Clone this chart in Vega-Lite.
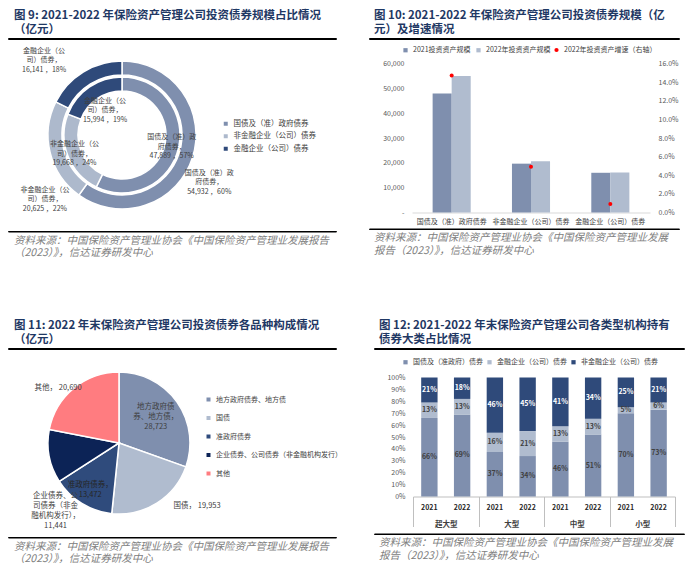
{
"$schema": "https://vega.github.io/schema/vega-lite/v6.json",
"background": "#ffffff",
"padding": {"left": 7, "top": 9, "right": 0, "bottom": 0},
"config": {
  "font": "Noto Sans CJK SC",
  "view": {"stroke": null},
  "axis": {"grid": false, "labelFont": "Noto Sans CJK SC"},
  "legend": {"labelFont": "Noto Sans CJK SC", "labelColor": "#404040", "labelFontSize": 7, "symbolType": "square", "symbolSize": 18, "symbolStrokeWidth": 0}
},
"datasets": {
  "p1": [
    {"yr": 2022, "ord": 1, "cat": "国债及（准）政府债券", "value": 54932, "label": "国债及（准）政\n府债券，\n54,932 ，60%"},
    {"yr": 2022, "ord": 2, "cat": "非金融企业（公司）债券", "value": 20625, "label": "非金融企业（公\n司）债券，\n20,625 ，22%"},
    {"yr": 2022, "ord": 3, "cat": "金融企业（公司）债券", "value": 16141, "label": "金融企业（公\n司）债券，\n16,141 ，18%"},
    {"yr": 2021, "ord": 1, "cat": "国债及（准）政府债券", "value": 47889, "label": "国债及（准）政\n府债券，\n47,889 ，57%"},
    {"yr": 2021, "ord": 2, "cat": "非金融企业（公司）债券", "value": 19668, "label": "非金融企业（公\n司）债券，\n19,668 ，24%"},
    {"yr": 2021, "ord": 3, "cat": "金融企业（公司）债券", "value": 15994, "label": "金融企业（公\n司）债券，\n15,994 ，19%"}
  ],
  "p2bars": [
    {"cat": "国债及（准）政府债券", "year": "2021投资资产规模", "value": 47889},
    {"cat": "国债及（准）政府债券", "year": "2022年投资资产规模", "value": 54932},
    {"cat": "非金融企业（公司）债券", "year": "2021投资资产规模", "value": 19668},
    {"cat": "非金融企业（公司）债券", "year": "2022年投资资产规模", "value": 20625},
    {"cat": "金融企业（公司）债券", "year": "2021投资资产规模", "value": 15994},
    {"cat": "金融企业（公司）债券", "year": "2022年投资资产规模", "value": 16141}
  ],
  "p2pts": [
    {"cat": "国债及（准）政府债券", "growth": 0.147},
    {"cat": "非金融企业（公司）债券", "growth": 0.049},
    {"cat": "金融企业（公司）债券", "growth": 0.009}
  ],
  "p3": [
    {"ord": 1, "cat": "地方政府债券、地方债", "value": 28723, "label": "地方政府债\n券、地方债，\n28,723"},
    {"ord": 2, "cat": "国债", "value": 19953, "label": "国债，  19,953"},
    {"ord": 3, "cat": "准政府债券", "value": 13472, "label": "准政府债券，\n13,472"},
    {"ord": 4, "cat": "企业债券、公司债券（非金融机构发行）", "value": 11441, "label": "企业债券、公\n司债券（非金\n融机构发行），\n11,441"},
    {"ord": 5, "cat": "其他", "value": 20690, "label": "其他，  20,690"}
  ],
  "p4": [
    {"type": "超大型", "year": "2021", "ord": 1, "series": "国债及（准政府）债券", "value": 0.66},
    {"type": "超大型", "year": "2021", "ord": 2, "series": "金融企业（公司）债券", "value": 0.13},
    {"type": "超大型", "year": "2021", "ord": 3, "series": "非金融企业（公司）债券", "value": 0.21},
    {"type": "超大型", "year": "2022", "ord": 1, "series": "国债及（准政府）债券", "value": 0.69},
    {"type": "超大型", "year": "2022", "ord": 2, "series": "金融企业（公司）债券", "value": 0.13},
    {"type": "超大型", "year": "2022", "ord": 3, "series": "非金融企业（公司）债券", "value": 0.18},
    {"type": "大型", "year": "2021", "ord": 1, "series": "国债及（准政府）债券", "value": 0.37},
    {"type": "大型", "year": "2021", "ord": 2, "series": "金融企业（公司）债券", "value": 0.16},
    {"type": "大型", "year": "2021", "ord": 3, "series": "非金融企业（公司）债券", "value": 0.46},
    {"type": "大型", "year": "2022", "ord": 1, "series": "国债及（准政府）债券", "value": 0.34},
    {"type": "大型", "year": "2022", "ord": 2, "series": "金融企业（公司）债券", "value": 0.21},
    {"type": "大型", "year": "2022", "ord": 3, "series": "非金融企业（公司）债券", "value": 0.45},
    {"type": "中型", "year": "2021", "ord": 1, "series": "国债及（准政府）债券", "value": 0.46},
    {"type": "中型", "year": "2021", "ord": 2, "series": "金融企业（公司）债券", "value": 0.13},
    {"type": "中型", "year": "2021", "ord": 3, "series": "非金融企业（公司）债券", "value": 0.41},
    {"type": "中型", "year": "2022", "ord": 1, "series": "国债及（准政府）债券", "value": 0.51},
    {"type": "中型", "year": "2022", "ord": 2, "series": "金融企业（公司）债券", "value": 0.13},
    {"type": "中型", "year": "2022", "ord": 3, "series": "非金融企业（公司）债券", "value": 0.34},
    {"type": "小型", "year": "2021", "ord": 1, "series": "国债及（准政府）债券", "value": 0.70},
    {"type": "小型", "year": "2021", "ord": 2, "series": "金融企业（公司）债券", "value": 0.05},
    {"type": "小型", "year": "2021", "ord": 3, "series": "非金融企业（公司）债券", "value": 0.25},
    {"type": "小型", "year": "2022", "ord": 1, "series": "国债及（准政府）债券", "value": 0.73},
    {"type": "小型", "year": "2022", "ord": 2, "series": "金融企业（公司）债券", "value": 0.06},
    {"type": "小型", "year": "2022", "ord": 3, "series": "非金融企业（公司）债券", "value": 0.21}
  ]
},
"spacing": 60,
"resolve": {"scale": {"color": "independent", "fill": "independent", "xOffset": "independent", "theta": "independent"}, "legend": {"color": "independent", "fill": "independent"}},
"vconcat": [
{
  "spacing": 31,
  "resolve": {"scale": {"color": "independent", "fill": "independent", "xOffset": "independent", "theta": "independent"}, "legend": {"color": "independent", "fill": "independent"}},
  "hconcat": [
  {
    "spacing": 0,
    "resolve": {"scale": {"color": "independent", "theta": "independent"}, "legend": {"color": "independent"}},
    "vconcat": [
      {"width": 328, "height": 1, "data": {"values": [{}]}, "mark": {"type": "text", "text": "", "fontSize": 0},
       "view": {"stroke": "#000000", "strokeWidth": 1},
       "title": {"text": ["图 9: 2021-2022 年保险资产管理公司投资债券规模占比情况", "（亿元）"], "anchor": "start", "dx": 6, "offset": 2.5, "fontSize": 11.5, "fontWeight": "bold", "color": "#1f3864", "lineHeight": 14}},
      {"width": 228, "height": 190, "data": {"name": "p1"},
       "layer": [
         {"transform": [{"filter": "datum.yr == 2022"}],
          "mark": {"type": "arc", "radius": 74, "radius2": 60, "stroke": "#ffffff", "strokeWidth": 1.5},
          "encoding": {
            "theta": {"field": "value", "type": "quantitative", "stack": true},
            "order": {"field": "ord", "type": "quantitative"},
            "color": {"field": "cat", "type": "nominal",
              "scale": {"domain": ["国债及（准）政府债券", "非金融企业（公司）债券", "金融企业（公司）债券"], "range": ["#7f8fae", "#adb9cc", "#2f4a7a"]},
              "legend": {"orient": "none", "legendX": 214, "legendY": 80, "title": null, "labelFontSize": 7.5, "rowPadding": 3.5, "symbolSize": 16}}}},
         {"transform": [{"filter": "datum.yr == 2021"}],
          "mark": {"type": "arc", "radius": 58, "radius2": 44, "stroke": "#ffffff", "strokeWidth": 1.5},
          "encoding": {
            "theta": {"field": "value", "type": "quantitative", "stack": true},
            "order": {"field": "ord", "type": "quantitative"},
            "color": {"field": "cat", "type": "nominal",
              "scale": {"domain": ["国债及（准）政府债券", "非金融企业（公司）债券", "金融企业（公司）债券"], "range": ["#7f8fae", "#adb9cc", "#2f4a7a"]},
              "legend": {"orient": "none", "legendX": 214, "legendY": 80, "title": null, "labelFontSize": 7.5, "rowPadding": 3.5, "symbolSize": 16}}}},
         {"transform": [{"filter": "datum.yr == 2021"}],
          "mark": {"type": "text", "radius": 51, "dy": -9.5, "fontSize": 7, "lineHeight": 9.5, "color": "#404040", "lineBreak": "\n"},
          "encoding": {
            "theta": {"field": "value", "type": "quantitative", "stack": true},
            "order": {"field": "ord", "type": "quantitative"},
            "text": {"condition": {"test": "datum.ord != 3", "field": "label", "type": "nominal"}, "value": ""}}},
         {"transform": [{"filter": "datum.yr == 2021"}],
          "mark": {"type": "text", "radius": 30, "dy": -9.5, "fontSize": 7, "lineHeight": 9.5, "color": "#404040", "lineBreak": "\n"},
          "encoding": {
            "theta": {"field": "value", "type": "quantitative", "stack": true},
            "order": {"field": "ord", "type": "quantitative"},
            "text": {"condition": {"test": "datum.ord == 3", "field": "label", "type": "nominal"}, "value": ""}}},
         {"transform": [{"filter": "datum.yr == 2022"}],
          "mark": {"type": "text", "radius": 99, "dx": -7, "dy": 7.5, "fontSize": 7, "lineHeight": 9.5, "color": "#404040", "lineBreak": "\n"},
          "encoding": {
            "theta": {"field": "value", "type": "quantitative", "stack": true},
            "order": {"field": "ord", "type": "quantitative"},
            "text": {"condition": {"test": "datum.ord == 1", "field": "label", "type": "nominal"}, "value": ""}}},
         {"transform": [{"filter": "datum.yr == 2022"}],
          "mark": {"type": "text", "radius": 101, "dx": 21, "dy": 30.5, "fontSize": 7, "lineHeight": 9.5, "color": "#404040", "lineBreak": "\n"},
          "encoding": {
            "theta": {"field": "value", "type": "quantitative", "stack": true},
            "order": {"field": "ord", "type": "quantitative"},
            "text": {"condition": {"test": "datum.ord == 2", "field": "label", "type": "nominal"}, "value": ""}}},
         {"transform": [{"filter": "datum.yr == 2022"}],
          "mark": {"type": "text", "radius": 108, "thetaOffset": -0.253, "dy": -9.5, "fontSize": 7, "lineHeight": 9.5, "color": "#404040", "lineBreak": "\n"},
          "encoding": {
            "theta": {"field": "value", "type": "quantitative", "stack": true},
            "order": {"field": "ord", "type": "quantitative"},
            "text": {"condition": {"test": "datum.ord == 3", "field": "label", "type": "nominal"}, "value": ""}}}
       ],
       "resolve": {"scale": {"theta": "independent"}}},
      {"width": 328, "height": 0.5, "data": {"values": [{}]}, "mark": {"type": "text", "text": "", "fontSize": 0},
       "view": {"stroke": "#000000", "strokeWidth": 1},
       "title": {"text": ["资料来源：中国保险资产管理业协会《中国保险资产管理业发展报告", "（2023）》，信达证券研发中心"], "orient": "bottom", "anchor": "start", "dx": 6, "offset": 4, "fontSize": 10.5, "fontStyle": "italic", "fontWeight": "normal", "color": "#808080", "lineHeight": 12.5}}
    ]
  },
  {
    "spacing": 6.5,
    "resolve": {"scale": {"color": "independent", "fill": "independent", "xOffset": "independent"}, "legend": {"color": "independent", "fill": "independent"}},
    "vconcat": [
      {"width": 310, "height": 1, "data": {"values": [{}]}, "mark": {"type": "text", "text": "", "fontSize": 0},
       "view": {"stroke": "#000000", "strokeWidth": 1},
       "title": {"text": ["图 10: 2021-2022 年保险资产管理公司投资债券规模（亿", "元）及增速情况"], "anchor": "start", "dx": 5, "offset": 2.5, "fontSize": 11.5, "fontWeight": "bold", "color": "#1f3864", "lineHeight": 14}},
      {
        "spacing": 3,
        "resolve": {"scale": {"color": "independent", "fill": "independent", "xOffset": "independent"}, "legend": {"color": "independent", "fill": "independent"}},
        "vconcat": [
          {
            "spacing": 0,
            "resolve": {"scale": {"color": "independent", "fill": "independent", "xOffset": "independent"}, "legend": {"color": "independent", "fill": "independent"}},
            "hconcat": [
              {"width": 13, "height": 1, "data": {"values": [{}]}, "mark": {"type": "text", "text": "", "fontSize": 0}},
              {"width": 238, "height": 149,
               "layer": [
                 {"data": {"name": "p2bars"}, "mark": {"type": "bar"},
                  "encoding": {
                    "x": {"field": "cat", "type": "nominal", "sort": ["国债及（准）政府债券", "非金融企业（公司）债券", "金融企业（公司）债券"],
                      "scale": {"paddingInner": 0.52, "paddingOuter": 0.26},
                      "axis": {"title": null, "labelAngle": 0, "labelFontSize": 7, "labelColor": "#404040", "ticks": false, "domainColor": "#d9d9d9", "labelPadding": 5, "labelLimit": 0}},
                    "xOffset": {"field": "year", "type": "nominal", "sort": ["2021投资资产规模", "2022年投资资产规模"]},
                    "y": {"field": "value", "type": "quantitative", "scale": {"domain": [0, 60000]},
                      "axis": {"title": null, "values": [0, 10000, 20000, 30000, 40000, 50000, 60000], "labelExpr": "datum.value == 0 ? '-' : format(datum.value, ',')", "domain": false, "ticks": false, "labelFontSize": 7, "labelColor": "#595959", "labelPadding": 8, "labelOverlap": false}},
                    "color": {"field": "year", "type": "nominal",
                      "scale": {"domain": ["2021投资资产规模", "2022年投资资产规模"], "range": ["#7f8fae", "#b0bccf"]},
                      "legend": {"orient": "none", "legendX": -10, "legendY": -17, "direction": "horizontal", "title": null, "labelFontSize": 7, "symbolSize": 18, "columnPadding": 4}}}},
                 {"data": {"name": "p2pts"}, "mark": {"type": "point", "filled": true, "size": 16, "opacity": 1},
                  "encoding": {
                    "x": {"field": "cat", "type": "nominal", "sort": ["国债及（准）政府债券", "非金融企业（公司）债券", "金融企业（公司）债券"]},
                    "y": {"field": "growth", "type": "quantitative", "scale": {"domain": [0, 0.16]},
                      "axis": {"orient": "right", "title": null, "format": ".1%", "values": [0, 0.02, 0.04, 0.06, 0.08, 0.1, 0.12, 0.14, 0.16], "domain": false, "ticks": false, "labelFontSize": 7, "labelColor": "#595959", "labelPadding": 8, "labelOverlap": false}},
                    "fill": {"datum": "2022年投资资产增速（右轴）", "type": "nominal", "scale": {"range": ["#ff0000"]},
                      "legend": {"orient": "none", "legendX": 141, "legendY": -17, "direction": "horizontal", "title": null, "symbolType": "circle", "symbolSize": 18, "labelFontSize": 7}}}}
               ],
               "resolve": {"scale": {"y": "independent"}}}
            ]
          },
          {"width": 310, "height": 0.5, "data": {"values": [{}]}, "mark": {"type": "text", "text": "", "fontSize": 0},
           "view": {"stroke": "#000000", "strokeWidth": 1},
           "title": {"text": ["资料来源：中国保险资产管理业协会《中国保险资产管理业发展", "报告（2023）》，信达证券研发中心"], "orient": "bottom", "anchor": "start", "dx": 5, "offset": 4, "fontSize": 10.5, "fontStyle": "italic", "fontWeight": "normal", "color": "#808080", "lineHeight": 12.5}}
        ]
      }
    ]
  }
  ]
},
{
  "spacing": 31,
  "resolve": {"scale": {"color": "independent", "fill": "independent", "xOffset": "independent", "theta": "independent"}, "legend": {"color": "independent", "fill": "independent"}},
  "hconcat": [
  {
    "spacing": 0,
    "resolve": {"scale": {"color": "independent", "theta": "independent"}, "legend": {"color": "independent"}},
    "vconcat": [
      {"width": 328, "height": 1, "data": {"values": [{}]}, "mark": {"type": "text", "text": "", "fontSize": 0},
       "view": {"stroke": "#000000", "strokeWidth": 1},
       "title": {"text": ["图 11: 2022 年末保险资产管理公司投资债券各品种构成情况", "（亿元）"], "anchor": "start", "dx": 6, "offset": 2.5, "fontSize": 11.5, "fontWeight": "bold", "color": "#1f3864", "lineHeight": 14}},
      {"width": 222, "height": 186, "data": {"name": "p3"},
       "layer": [
         {"mark": {"type": "arc", "radius": 71, "stroke": "#ffffff", "strokeWidth": 1.5},
          "encoding": {
            "theta": {"field": "value", "type": "quantitative", "stack": true},
            "order": {"field": "ord", "type": "quantitative"},
            "color": {"field": "cat", "type": "nominal",
              "scale": {"domain": ["地方政府债券、地方债", "国债", "准政府债券", "企业债券、公司债券（非金融机构发行）", "其他"], "range": ["#7f8fae", "#b0bccf", "#2f4b7c", "#0c2356", "#ff7c80"]},
              "legend": {"orient": "none", "legendX": 197, "legendY": 46, "title": null, "labelFontSize": 7, "rowPadding": 10.5, "symbolSize": 16, "labelLimit": 0}}}},
         {"mark": {"type": "text", "radius": 45, "dy": -10, "fontSize": 7.5, "lineHeight": 10, "color": "#404040", "lineBreak": "\n"},
          "encoding": {
            "theta": {"field": "value", "type": "quantitative", "stack": true},
            "order": {"field": "ord", "type": "quantitative"},
            "text": {"condition": {"test": "datum.ord == 1", "field": "label", "type": "nominal"}, "value": ""}}},
         {"mark": {"type": "text", "radius": 55, "dy": -5, "fontSize": 7.5, "lineHeight": 10, "color": "#262626", "lineBreak": "\n"},
          "encoding": {
            "theta": {"field": "value", "type": "quantitative", "stack": true},
            "order": {"field": "ord", "type": "quantitative"},
            "text": {"condition": {"test": "datum.ord == 3", "field": "label", "type": "nominal"}, "value": ""}}},
         {"mark": {"type": "text", "radius": 78, "dx": 13, "dy": -3, "align": "left", "fontSize": 7.5, "lineHeight": 10, "color": "#404040", "lineBreak": "\n"},
          "encoding": {
            "theta": {"field": "value", "type": "quantitative", "stack": true},
            "order": {"field": "ord", "type": "quantitative"},
            "text": {"condition": {"test": "datum.ord == 2", "field": "label", "type": "nominal"}, "value": ""}}},
         {"mark": {"type": "text", "radius": 83, "thetaOffset": -0.511, "fontSize": 7.5, "lineHeight": 10, "color": "#404040", "lineBreak": "\n"},
          "encoding": {
            "theta": {"field": "value", "type": "quantitative", "stack": true},
            "order": {"field": "ord", "type": "quantitative"},
            "text": {"condition": {"test": "datum.ord == 4", "field": "label", "type": "nominal"}, "value": ""}}},
         {"mark": {"type": "text", "radius": 80, "dx": -10, "dy": 7, "fontSize": 7.5, "lineHeight": 10, "color": "#404040", "lineBreak": "\n"},
          "encoding": {
            "theta": {"field": "value", "type": "quantitative", "stack": true},
            "order": {"field": "ord", "type": "quantitative"},
            "text": {"condition": {"test": "datum.ord == 5", "field": "label", "type": "nominal"}, "value": ""}}}
       ]},
      {"width": 328, "height": 0.5, "data": {"values": [{}]}, "mark": {"type": "text", "text": "", "fontSize": 0},
       "view": {"stroke": "#000000", "strokeWidth": 1},
       "title": {"text": ["资料来源：中国保险资产管理业协会《中国保险资产管理业发展报告", "（2023）》，信达证券研发中心"], "orient": "bottom", "anchor": "start", "dx": 6, "offset": 4, "fontSize": 10.5, "fontStyle": "italic", "fontWeight": "normal", "color": "#808080", "lineHeight": 12.5}}
    ]
  },
  {
    "spacing": 8.5,
    "resolve": {"scale": {"color": "independent", "xOffset": "independent"}, "legend": {"color": "independent"}},
    "vconcat": [
      {"width": 310, "height": 1, "data": {"values": [{}]}, "mark": {"type": "text", "text": "", "fontSize": 0},
       "view": {"stroke": "#000000", "strokeWidth": 1},
       "title": {"text": ["图 12: 2021-2022 年末保险资产管理公司各类型机构持有", "债券大类占比情况"], "anchor": "start", "dx": 5, "offset": 2.5, "fontSize": 11.5, "fontWeight": "bold", "color": "#1f3864", "lineHeight": 14}},
      {
        "spacing": 4,
        "resolve": {"scale": {"color": "independent", "xOffset": "independent"}, "legend": {"color": "independent"}},
        "vconcat": [
          {
            "spacing": 0,
            "resolve": {"scale": {"color": "independent", "xOffset": "independent"}, "legend": {"color": "independent"}},
            "hconcat": [
              {"width": 12, "height": 1, "data": {"values": [{}]}, "mark": {"type": "text", "text": "", "fontSize": 0}},
              {"width": 262, "height": 119, "data": {"name": "p4"},
               "layer": [
                 {"mark": {"type": "bar"},
                  "encoding": {
                    "x": {"field": "type", "type": "nominal", "sort": ["超大型", "大型", "中型", "小型"],
                      "scale": {"paddingInner": 0, "paddingOuter": 0},
                      "axis": {"title": null, "labelAngle": 0, "tickBand": "extent", "ticks": true, "tickSize": 30, "tickColor": "#bfbfbf", "domainColor": "#bfbfbf", "labelPadding": -6, "labelFontSize": 7.5, "labelColor": "#404040", "labelFontWeight": "bold"}},
                    "xOffset": {"field": "year", "type": "nominal", "scale": {"paddingInner": 0.5, "paddingOuter": 0.25}},
                    "y": {"field": "value", "type": "quantitative", "stack": "normalize",
                      "axis": {"title": null, "format": ".0%", "values": [0, 0.1, 0.2, 0.3, 0.4, 0.5, 0.6, 0.7, 0.8, 0.9, 1], "domain": false, "ticks": false, "labelFontSize": 7, "labelColor": "#595959", "labelPadding": 8, "labelOverlap": false}},
                    "color": {"field": "series", "type": "nominal",
                      "scale": {"domain": ["国债及（准政府）债券", "金融企业（公司）债券", "非金融企业（公司）债券"], "range": ["#7f8fae", "#b0bccf", "#2f4a7a"]},
                      "legend": {"orient": "none", "legendX": -11, "legendY": -19, "direction": "horizontal", "title": null, "labelFontSize": 7, "symbolSize": 18, "columnPadding": 3}},
                    "order": {"field": "ord", "type": "quantitative"}}},
                 {"mark": {"type": "text", "fontSize": 7, "fontWeight": "bold"},
                  "encoding": {
                    "x": {"field": "type", "type": "nominal", "sort": ["超大型", "大型", "中型", "小型"]},
                    "xOffset": {"field": "year", "type": "nominal"},
                    "y": {"field": "value", "type": "quantitative", "stack": "normalize", "bandPosition": 0.5,
                      "axis": {"title": null, "format": ".0%", "values": [0, 0.1, 0.2, 0.3, 0.4, 0.5, 0.6, 0.7, 0.8, 0.9, 1], "domain": false, "ticks": false, "labelFontSize": 7, "labelColor": "#595959", "labelPadding": 8, "labelOverlap": false}},
                    "order": {"field": "ord", "type": "quantitative"},
                    "text": {"field": "value", "type": "quantitative", "format": ".0%"},
                    "color": {"condition": {"test": "datum.ord == 3", "value": "#ffffff"}, "value": "#404040"}}},
                 {"transform": [{"filter": "datum.ord == 1"}],
                  "mark": {"type": "text", "baseline": "top", "dy": 7, "fontSize": 7, "fontWeight": "bold", "color": "#262626"},
                  "encoding": {
                    "x": {"field": "type", "type": "nominal", "sort": ["超大型", "大型", "中型", "小型"]},
                    "xOffset": {"field": "year", "type": "nominal"},
                    "y": {"datum": 0, "type": "quantitative",
                      "axis": {"title": null, "format": ".0%", "values": [0, 0.1, 0.2, 0.3, 0.4, 0.5, 0.6, 0.7, 0.8, 0.9, 1], "domain": false, "ticks": false, "labelFontSize": 7, "labelColor": "#595959", "labelPadding": 8, "labelOverlap": false}},
                    "text": {"field": "year", "type": "nominal"}}}
               ]}
            ]
          },
          {"width": 310, "height": 0.5, "data": {"values": [{}]}, "mark": {"type": "text", "text": "", "fontSize": 0},
           "view": {"stroke": "#000000", "strokeWidth": 1},
           "title": {"text": ["资料来源：中国保险资产管理业协会《中国保险资产管理业发展", "报告（2023）》，信达证券研发中心"], "orient": "bottom", "anchor": "start", "dx": 5, "offset": 4, "fontSize": 10.5, "fontStyle": "italic", "fontWeight": "normal", "color": "#808080", "lineHeight": 12.5}}
        ]
      }
    ]
  }
  ]
}
]
}
